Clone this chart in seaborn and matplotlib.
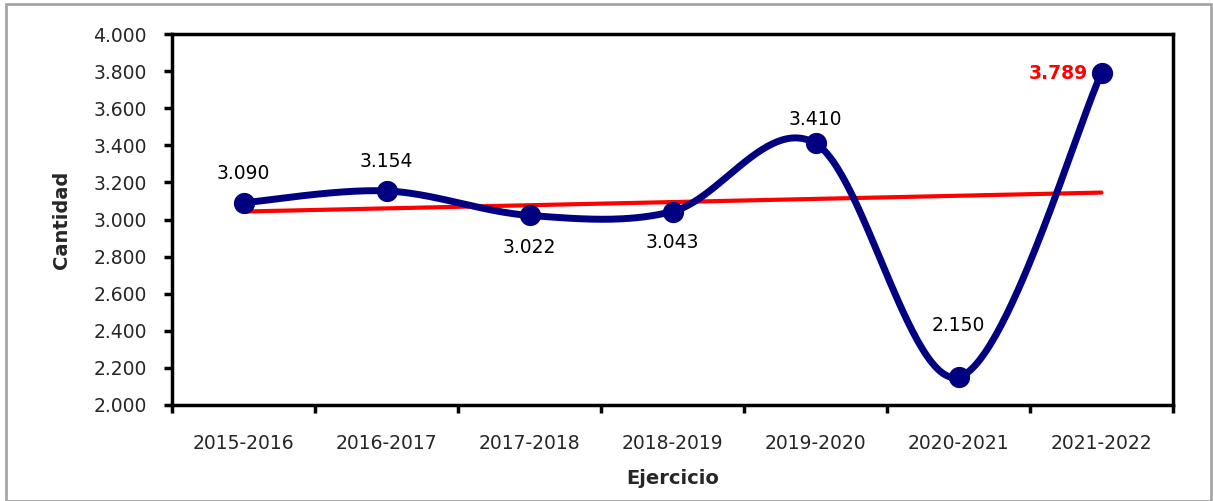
import numpy as np
import pandas as pd
import matplotlib
matplotlib.use("Agg")
import matplotlib.pyplot as plt
import seaborn as sns
from matplotlib.patches import Rectangle

categories = ["2015-2016", "2016-2017", "2017-2018", "2018-2019", "2019-2020", "2020-2021", "2021-2022"]
values = [3090, 3154, 3022, 3043, 3410, 2150, 3789]
label_pos = ["above", "above", "below", "below", "above", "above", "left"]
y_ticks = [2000, 2200, 2400, 2600, 2800, 3000, 3200, 3400, 3600, 3800, 4000]

sns.set_theme(style="white")
plt.rcParams['font.family'] = ['DejaVu Sans']

def fmt(v):
    return f"{v:,.0f}".replace(",", ".")

fig = plt.figure(figsize=(12.13, 5.01), dpi=100)
ax = fig.add_axes([172/1213, 1-405/501, (1173-172)/1213, (405-34)/501])

x = np.arange(len(values), dtype=float)
y = np.array(values, dtype=float)

# Excel-like smoothed curve (Bezier with Catmull-Rom control points)
px = np.concatenate([[x[0]], x, [x[-1]]])
py = np.concatenate([[y[0]], y, [y[-1]]])
sx, sy = [], []
t = np.linspace(0, 1, 60)
for i in range(len(x) - 1):
    p0 = np.array([px[i+1], py[i+1]])
    p3 = np.array([px[i+2], py[i+2]])
    c1 = p0 + (np.array([px[i+2], py[i+2]]) - np.array([px[i], py[i]])) / 6
    c2 = p3 - (np.array([px[i+3], py[i+3]]) - np.array([px[i+1], py[i+1]])) / 6
    b = ((1-t)**3)[:, None]*p0 + (3*(1-t)**2*t)[:, None]*c1 + (3*(1-t)*t**2)[:, None]*c2 + (t**3)[:, None]*p3
    sx.extend(b[:, 0]); sy.extend(b[:, 1])
curve = pd.DataFrame({"x": sx, "y": sy})
sns.lineplot(data=curve, x="x", y="y", sort=False, color="#000080", linewidth=5, ax=ax, zorder=3)

df = pd.DataFrame({"x": x, "y": y})
sns.scatterplot(data=df, x="x", y="y", color="#000080", s=200, edgecolor="#000080", ax=ax, zorder=4)

# linear trend line
sns.regplot(data=df, x="x", y="y", scatter=False, ci=None, truncate=True,
            line_kws={"color": "#ff0000", "linewidth": 3, "zorder": 2}, ax=ax)

# label offsets in points (dx, dy)
offsets = [(0, 21), (0, 21), (0, -23), (0, -22), (0, 17), (0, 37), (-10, 0)]
for xi, yi, pos, (dx, dy) in zip(x, y, label_pos, offsets):
    txt = fmt(yi)
    if pos == "left":
        ax.annotate(txt, (xi, yi), xytext=(dx, dy), textcoords="offset points",
                    ha="right", va="center", fontsize=13.5, color="#ff0000", fontweight="bold")
    else:
        ax.annotate(txt, (xi, yi), xytext=(dx, dy), textcoords="offset points",
                    ha="center", va="center", fontsize=13.5, color="black")

ax.set_xlim(-0.5, len(values) - 0.5)
ax.set_ylim(2000, 4000)
ax.set_yticks(y_ticks)
ax.set_yticklabels([fmt(v) for v in y_ticks], fontsize=13.5)
ax.set_xticks(x)
ax.set_xticklabels(categories, fontsize=13.5)
ax.set_xticks(np.arange(-0.5, len(values), 1.0), minor=True)
ax.tick_params(axis="x", which="major", length=0, pad=21)
ax.tick_params(axis="x", which="minor", length=6, width=2.5, direction="out", bottom=True, color="black")
ax.tick_params(axis="y", which="major", length=6, width=2.5, direction="out", left=True, color="black", pad=12)
ax.set_xlabel("Ejercicio", fontsize=14, fontweight="bold")
ax.set_ylabel("Cantidad", fontsize=14, fontweight="bold")
ax.yaxis.set_label_coords(-0.110, 0.5)
ax.xaxis.set_label_coords(0.5, -0.197)
ax.xaxis.label.set_va("center")
ax.yaxis.label.set_va("center")
for sp in ax.spines.values():
    sp.set_visible(True)
    sp.set_color("black")
    sp.set_linewidth(2.5)
ax.grid(False)
ax.set_facecolor("white")

fig.patches.append(Rectangle((6/1213, 0.0), 1 - 8/1213, 1 - 4/501, transform=fig.transFigure,
                             fill=False, edgecolor="#a6a6a6", linewidth=2))

fig.savefig("out.png", dpi=100, facecolor="white")
